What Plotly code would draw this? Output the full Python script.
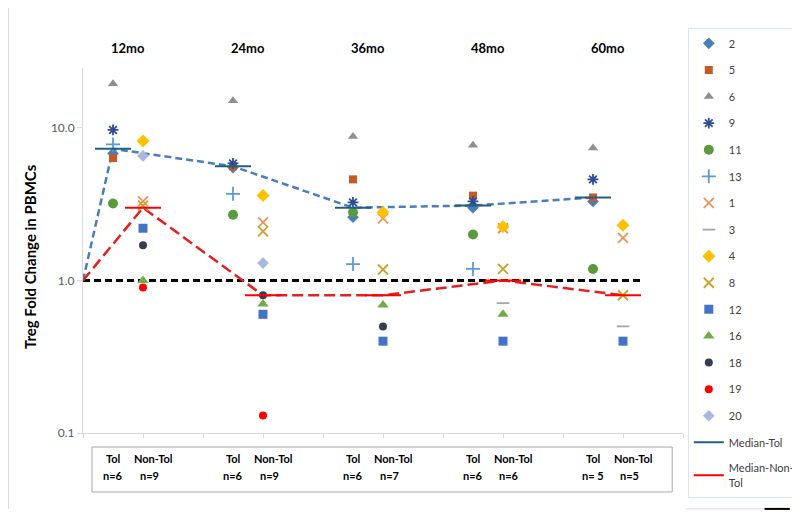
import plotly.graph_objects as go

# ---------------- data ----------------
timepoints = ["12mo", "24mo", "36mo", "48mo", "60mo"]
tol_x = [1, 5, 9, 13, 17]
nontol_x = [2, 6, 10, 14, 18]
tol_n = ["n=6", "n=6", "n=6", "n=6", "n= 5"]
nontol_n = ["n=9", "n=9", "n=7", "n=6", "n=5"]
baseline = 1.0

# Tolerant patients (values at 12, 24, 36, 48, 60 mo)
p2 = [6.8, 5.5, 2.6, 3.0, 3.3]
p5 = [6.35, 5.6, 4.6, 3.6, 3.5]
p6 = [19.5, 15.1, 8.8, 7.7, 7.4]
p9 = [9.7, 5.85, 3.25, 3.3, 4.6]
p11 = [3.2, 2.7, 2.8, 2.0, 1.19]
p13 = [7.8, 3.7, 1.28, 1.19, None]

# Non-tolerant patients
p1 = [3.3, 2.4, 2.55, 2.2, 1.9]
p3 = [3.0, 0.8, 0.8, 0.71, 0.5]
p4 = [8.2, 3.6, 2.8, 2.25, 2.3]
p8 = [3.1, 2.1, 1.18, 1.19, 0.8]
p12 = [2.2, 0.6, 0.4, 0.4, 0.4]
p16 = [1.0, 0.7, 0.69, 0.6, None]
p18 = [1.7, 0.8, 0.5, None, None]
p19 = [0.9, 0.13, None, None, None]
p20 = [6.55, 1.3, None, None, None]

median_tol = [7.3, 5.6, 3.0, 3.1, 3.5]
median_nontol = [3.0, 0.8, 0.8, 1.0, 0.8]

# ---------------- styles ----------------
series = [
    ("2", p2, "tol", "diamond", "#4A7EBB", 9),
    ("5", p5, "tol", "square", "#C55A24", 8),
    ("6", p6, "tol", "triangle-up", "#8F8F8F", 9),
    ("9", p9, "tol", "asterisk-open", "#2E4C8F", 9),
    ("11", p11, "tol", "circle", "#5A9A3C", 10),
    ("13", p13, "tol", "cross-thin-open", "#5B9BD5", 10),
    ("1", p1, "non", "x-thin-open", "#E8955A", 10),
    ("3", p3, "non", "line-ew-open", "#A5A5A5", 9),
    ("4", p4, "non", "diamond", "#FFC000", 10),
    ("8", p8, "non", "x-thin-open", "#C9A227", 10),
    ("12", p12, "non", "square", "#4472C4", 9),
    ("16", p16, "non", "triangle-up", "#70AD47", 10),
    ("18", p18, "non", "circle", "#333F50", 8),
    ("19", p19, "non", "circle", "#FF0000", 8),
    ("20", p20, "non", "diamond", "#A9B8DC", 9),
]

FONT = "Lato, 'Open Sans', sans-serif"
HALF = 0.6  # half width of median bars (x units)

fig = go.Figure()

# reference line at 1.0
fig.add_trace(go.Scatter(x=[0, 18.6], y=[baseline, baseline], mode="lines",
                         line=dict(color="black", width=3, dash="7px,4px"),
                         showlegend=False, hoverinfo="skip"))
# dashed connecting median lines
fig.add_trace(go.Scatter(x=[0] + tol_x, y=[baseline] + median_tol, mode="lines",
                         line=dict(color="#4A7EBB", width=2.5, dash="7px,4px"),
                         showlegend=False, hoverinfo="skip"))
fig.add_trace(go.Scatter(x=[0] + nontol_x, y=[baseline] + median_nontol, mode="lines",
                         line=dict(color="#E81E1E", width=2.5, dash="11px,5px"),
                         showlegend=False, hoverinfo="skip"))

for name, vals, grp, sym, col, size in series:
    xs = tol_x if grp == "tol" else nontol_x
    px = [x for x, v in zip(xs, vals) if v is not None]
    py = [v for v in vals if v is not None]
    is_open = sym.endswith("open")
    fig.add_trace(go.Scatter(
        x=px, y=py, mode="markers", name=name, legendgroup=name,
        marker=dict(symbol=sym, size=size, color=col,
                    line=dict(color=col, width=1.8 if is_open else 0)),
    ))


def bars(xs, meds):
    bx, by = [], []
    for x, m in zip(xs, meds):
        bx += [x - HALF, x + HALF, None]
        by += [m, m, None]
    return bx, by


bx, by = bars(tol_x, median_tol)
fig.add_trace(go.Scatter(x=bx, y=by, mode="lines", name="Median-Tol", legendgroup="mt",
                         line=dict(color="#1F5F85", width=2)))
bx, by = bars(nontol_x, median_nontol)
fig.add_trace(go.Scatter(x=bx, y=by, mode="lines", name="Median-Non-<br>Tol", legendgroup="mn",
                         line=dict(color="#FF0000", width=2)))

# ---------------- annotations ----------------
ann = []
for t, xt, xn in zip(timepoints, tol_x, nontol_x):
    ann.append(dict(x=(xt + xn) / 2, y=1.055, xref="x", yref="paper", text="<b>%s</b>" % t,
                    showarrow=False, yanchor="middle",
                    font=dict(size=13, color="#000000", family=FONT)))
for xt, xn, nt, nn in zip(tol_x, nontol_x, tol_n, nontol_n):
    for xx, yy, tx in [(xt, -0.0712, "Tol"), (xn + 0.35, -0.0712, "Non-Tol"),
                       (xt, -0.1178, nt), (xn + 0.2, -0.1178, nn)]:
        ann.append(dict(x=xx, y=yy, xref="x", yref="paper", text="<b>%s</b>" % tx,
                        showarrow=False, yanchor="middle",
                        font=dict(size=11, color="#000000", family=FONT)))
ann.append(dict(x=-0.0883, y=0.482, xref="paper", yref="paper",
                text="<b>Treg Fold Change in PBMCs</b>", xanchor="center", yanchor="middle",
                textangle=-90, showarrow=False, font=dict(size=15, color="#000000", family=FONT)))

shapes = [
    dict(type="rect", xref="paper", yref="paper", x0=0.015, x1=0.982, y0=-0.1616, y1=-0.0384,
         line=dict(color="#A6A6A6", width=1)),
    dict(type="line", xref="paper", yref="paper", x0=-0.1242, x1=-0.1242, y0=-0.208, y1=1.17,
         line=dict(color="#D9D9D9", width=1)),
    dict(type="line", xref="paper", yref="paper", x0=1.005, x1=1.15, y0=-0.208, y1=-0.208,
         line=dict(color="#D9D9D9", width=1)),
    dict(type="line", xref="paper", yref="paper", x0=1.136, x1=1.178, y0=-0.208, y1=-0.208,
         line=dict(color="#000000", width=2)),
]

# page body has an 8px default margin, so the figure is 8px smaller and shifted
fig.update_layout(
    width=792, height=510,
    margin=dict(l=75, r=117, t=60, b=85, autoexpand=False),
    paper_bgcolor="white", plot_bgcolor="white",
    font=dict(family=FONT, size=12, color="#404040"),
    annotations=ann, shapes=shapes,
    legend=dict(x=1.008, y=1.11, xanchor="left", yanchor="top", maxheight=480,
                bgcolor="white", bordercolor="#DAE3F3", borderwidth=1,
                font=dict(size=11, color="#404040", family=FONT),
                traceorder="grouped", tracegroupgap=7.6, itemwidth=30, entrywidth=52),
    xaxis=dict(range=[0, 20], tickvals=list(range(0, 21, 2)), ticktext=[""] * 11,
               showgrid=False, zeroline=False, showline=True, linecolor="#D9D9D9",
               ticks="outside", ticklen=4, tickcolor="#D9D9D9"),
    yaxis=dict(type="log", range=[-1, 1.393], tickvals=[0.1, 1, 10],
               ticktext=["0.1", "1.0", "10.0"], showgrid=False, zeroline=False,
               showline=True, linecolor="#D9D9D9", ticks="outside", ticklen=5,
               tickcolor="#D9D9D9", tickfont=dict(size=12, color="#595959", family=FONT)),
    showlegend=True,
)

fig.write_html("out.html")
